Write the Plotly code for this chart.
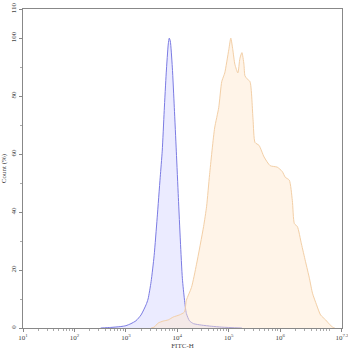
import numpy as np
import plotly.graph_objects as go

# Blue (control) histogram: log10(FITC-H) and Count (%)
blue_log = [2.51, 2.706, 2.902, 3.0, 3.098, 3.196, 3.294, 3.392, 3.431, 3.490, 3.549, 3.608,
            3.667, 3.706, 3.745, 3.784, 3.824, 3.843, 3.863, 3.902, 3.941, 3.980, 4.020,
            4.059, 4.098, 4.137, 4.176, 4.235, 4.314, 4.471, 4.667, 4.863, 5.255]
blue_pct = [0, 0.2, 0.5, 0.8, 1.5, 2.5, 4.5, 8, 10, 16, 25, 38,
            52, 61, 75, 88, 98, 100, 99, 90, 76, 61, 45,
            30, 17, 10, 5, 2.5, 1.5, 1.0, 0.6, 0.3, 0.0]

# Orange (stained) histogram
orange_log = [3.490, 3.549, 3.627, 3.725, 3.824, 3.922, 4.039, 4.137, 4.176, 4.275, 4.373,
              4.510, 4.569, 4.627, 4.725, 4.804, 4.863, 4.902, 4.922, 5.000, 5.039, 5.078,
              5.118, 5.176, 5.216, 5.255, 5.294, 5.314, 5.353, 5.412, 5.471, 5.510, 5.588,
              5.686, 5.804, 5.941, 6.039, 6.098, 6.176, 6.235, 6.275, 6.333, 6.412, 6.490,
              6.569, 6.627, 6.706, 6.784, 6.882, 6.961, 7.020, 7.059]
orange_pct = [0, 0.3, 1.7, 2.4, 2.8, 3.8, 4.5, 5.5, 9.6, 14, 22,
              35, 42, 53, 69, 76, 85, 87, 88, 96, 100, 96,
              91, 88, 93, 95, 91, 87, 86, 85, 72, 64, 63,
              59, 56, 55.5, 54, 52, 51, 44, 36, 35, 29, 23,
              17, 12, 8, 4.5, 2.8, 1.2, 0.3, 0]

x_tick_exp = [1, 2, 3, 4, 5, 6, 7.2]
x_tick_text = ["10<sup>1</sup>", "10<sup>2</sup>", "10<sup>3</sup>", "10<sup>4</sup>",
               "10<sup>5</sup>", "10<sup>6</sup>", "10<sup>7.2</sup>"]
y_ticks = [0, 20, 40, 60, 80, 100, 110]

font = "Liberation Serif, DejaVu Serif, serif"

fig = go.Figure()
fig.add_trace(go.Scatter(
    x=10 ** np.array(blue_log), y=blue_pct, mode="lines",
    line=dict(color="#7b7be3", width=1, shape="spline", smoothing=0.6),
    fill="tozeroy", fillcolor="rgba(215,215,255,0.5)", hoverinfo="skip"))
fig.add_trace(go.Scatter(
    x=10 ** np.array(orange_log), y=orange_pct, mode="lines",
    line=dict(color="#f3cfa6", width=1, shape="spline", smoothing=0.6),
    fill="tozeroy", fillcolor="rgba(255,230,205,0.45)", hoverinfo="skip"))

minor_x = [m * 10 ** d for d in range(1, 8) for m in range(2, 10) if np.log10(m * 10 ** d) < 7.2]

fig.update_layout(
    width=348, height=350,
    margin=dict(l=23, r=6, t=9, b=22),
    paper_bgcolor="white", plot_bgcolor="white",
    showlegend=False,
    font=dict(family=font, size=7, color="#444"),
    xaxis=dict(
        type="log", range=[1, 7.2005], automargin=False, ticklabeloverflow="allow",
        tickvals=[10 ** e for e in x_tick_exp], ticktext=x_tick_text,
        ticks="outside", ticklen=3, tickcolor="#888", tickwidth=1,
        minor=dict(tickvals=minor_x, ticks="outside", ticklen=2, tickcolor="#aaa"),
        showline=True, linecolor="#888", linewidth=1, mirror=True,
        showgrid=False, zeroline=False,
        tickfont=dict(size=7, family=font, color="#444"),
        title=dict(text="FITC-H", font=dict(size=7, family=font, color="#444"), standoff=3),
    ),
    yaxis=dict(
        range=[0, 110.05], automargin=False, ticklabeloverflow="allow",
        tickvals=y_ticks, ticks="outside", ticklen=3, tickcolor="#888",
        minor=dict(dtick=10, ticks="outside", ticklen=2, tickcolor="#aaa"),
        showline=True, linecolor="#888", linewidth=1, mirror=True,
        showgrid=False, zeroline=False, tickangle=-90,
        tickfont=dict(size=7, family=font, color="#444"),
        title=dict(text="Count (%)", font=dict(size=7, family=font, color="#444"), standoff=2),
    ),
)

fig.write_html("out.html")
